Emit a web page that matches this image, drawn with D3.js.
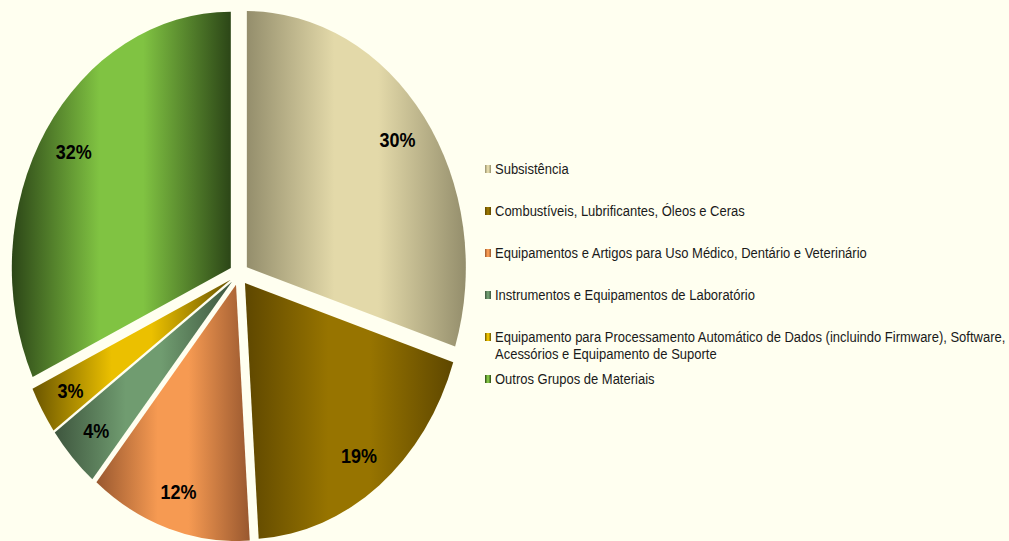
<!DOCTYPE html>
<html>
<head>
<meta charset="utf-8">
<script src="https://cdn.jsdelivr.net/npm/d3@7"></script>
<style>
  body { margin: 0; background: #FFFFF0; }
  text { font-family: "Liberation Sans", Arial, sans-serif; }
</style>
</head>
<body>
<div id="my_dataviz"></div>
<script>
// data
var categories = [
  "Subsistência",
  "Combustíveis, Lubrificantes, Óleos e Ceras",
  "Equipamentos e Artigos para Uso Médico, Dentário e Veterinário",
  "Instrumentos e Equipamentos de Laboratório",
  "Equipamento para Processamento Automático de Dados (incluindo Firmware), Software, Acessórios e Equipamento de Suporte",
  "Outros Grupos de Materiais"
];
var values = [30, 19, 12, 4, 3, 32];
// gradient colours: edge (dark) and middle (light)
var darkColors  = ["#948E6C", "#5E4700", "#99582F", "#3E563E", "#6A5500", "#2C4617"];
var lightColors = ["#E3D9A9", "#977400", "#F69A52", "#709C70", "#EBC000", "#80C342"];

var width = 1009, height = 541;
var cx = 239, cy = 274, radius = 219, stretch = 1.17, explode = 9.7;

var svg = d3.select("#my_dataviz")
  .append("svg")
    .attr("width", width)
    .attr("height", height)
    .style("background", "#FFFFF0");

// reflected horizontal gradients, one per category
var defs = svg.append("defs");
categories.forEach(function(c, i) {
  var g = defs.append("linearGradient")
    .attr("id", "grad" + i)
    .attr("x1", 0).attr("x2", 1).attr("y1", 0).attr("y2", 0);
  g.append("stop").attr("offset", "0%").attr("stop-color", darkColors[i]);
  g.append("stop").attr("offset", "40%").attr("stop-color", lightColors[i]);
  g.append("stop").attr("offset", "60%").attr("stop-color", lightColors[i]);
  g.append("stop").attr("offset", "100%").attr("stop-color", darkColors[i]);
});

var pie = d3.pie().sort(null).value(function(d) { return d; });
var arcs = pie(values);

var arc = d3.arc().innerRadius(0).outerRadius(radius);
var labelArc = d3.arc().innerRadius(radius * 0.85).outerRadius(radius * 0.85);

// the pie is drawn a bit taller than wide
var g = svg.append("g")
  .attr("transform", "translate(" + cx + "," + cy + ") scale(1," + stretch + ")");

function offset(d) {
  var a = (d.startAngle + d.endAngle) / 2;
  return [explode * Math.sin(a), -explode * Math.cos(a)];
}

var slice = g.selectAll("g.slice")
  .data(arcs)
  .enter()
  .append("g")
    .attr("class", "slice")
    .attr("transform", function(d) { var o = offset(d); return "translate(" + o[0] + "," + o[1] + ")"; });

slice.append("path")
  .attr("d", arc)
  .attr("fill", function(d, i) { return "url(#grad" + i + ")"; });

slice.append("text")
  .attr("transform", function(d) { return "translate(" + labelArc.centroid(d) + ")"; })
  .attr("text-anchor", "middle")
  .attr("dominant-baseline", "central")
  .style("font-size", "18px")
  .style("font-weight", "bold")
  .attr("fill", "#000")
  .text(function(d) { return d.data + "%"; });

// legend
var legendX = 485, legendY = 169, legendStep = 42, maxW = 516;
var legend = svg.selectAll("g.legend")
  .data(categories)
  .enter()
  .append("g")
    .attr("class", "legend")
    .attr("transform", function(d, i) { return "translate(" + legendX + "," + (legendY + i * legendStep) + ")"; });

legend.append("rect")
  .attr("x", 0)
  .attr("y", -4)
  .attr("width", 6)
  .attr("height", 8)
  .attr("fill", function(d, i) { return "url(#grad" + i + ")"; });

legend.append("text")
  .attr("transform", "translate(10,0) scale(1,1.08)")
  .attr("dy", "0.35em")
  .style("font-size", "13px")
  .attr("fill", "#1a1a1a")
  .each(function(d) {
    // simple word wrap
    var t = d3.select(this), words = d.split(" "), line = [];
    var span = t.append("tspan").attr("x", 0);
    words.forEach(function(w) {
      line.push(w);
      span.text(line.join(" "));
      if (span.node().getComputedTextLength() > maxW && line.length > 1) {
        line.pop();
        span.text(line.join(" "));
        line = [w];
        span = t.append("tspan").attr("x", 0).attr("dy", "1.2em").text(w);
      }
    });
  });
</script>
</body>
</html>
